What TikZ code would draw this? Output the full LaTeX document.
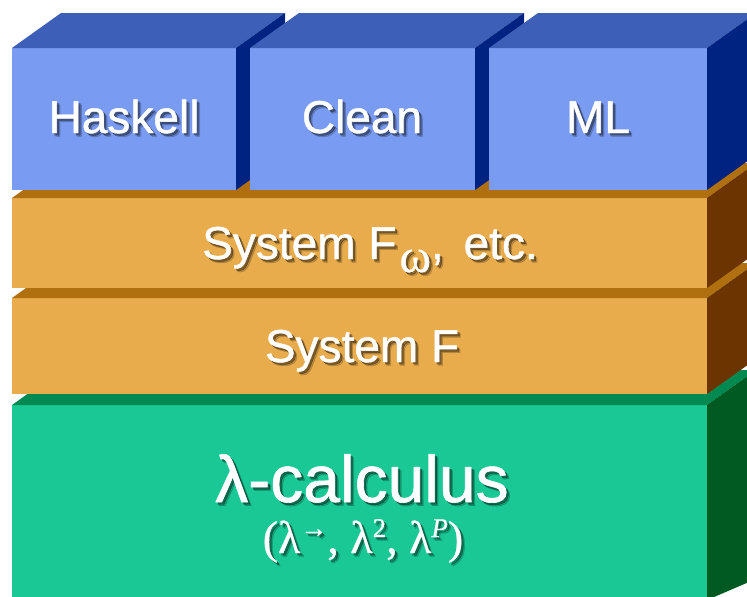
\documentclass[tikz,border=0pt]{standalone}
\usepackage{fontspec}
\setmainfont{Liberation Sans}
\newfontfamily\labelfont{Liberation Sans}[FakeBold=0.9]
\newfontfamily\serifgreek{Liberation Serif}[FakeBold=0.6]

% face colours of the three kinds of block
\definecolor{bluefront}{RGB}{122,155,242}
\definecolor{bluetop}{RGB}{62,95,184}
\definecolor{blueside}{RGB}{0,34,128}
\definecolor{orfront}{RGB}{232,172,76}
\definecolor{ortop}{RGB}{176,112,16}
\definecolor{orside}{RGB}{108,52,0}
\definecolor{grfront}{RGB}{26,200,150}
\definecolor{grtop}{RGB}{0,138,82}
\definecolor{grside}{RGB}{0,90,34}

% a block: front face (x0,y0)-(x1,y1), seen with depth (49,-35)
\newcommand\block[7]{%
  \fill[#5] (#1,#2) rectangle (#3,#4);
  \fill[#6] (#1,#2) -- (#1+49,#2-35) -- (#3+49,#2-35) -- (#3,#2) -- cycle;
  \fill[#7] (#3,#2) -- (#3+49,#2-35) -- (#3+49,#4-35) -- (#3,#4) -- cycle;
}

% white text with a soft dark drop shadow
\newcommand\shadowed[4]{%
  \node[#3, text=black, text opacity=0.18, xshift=3.5pt, yshift=-3.5pt] at (#2) {#4};
  \node[#3, text=black, text opacity=0.35, xshift=2.2pt, yshift=-2.2pt] at (#2) {#4};
  \node[#3, text=white] (#1) at (#2) {#4};
}

\tikzset{
  lbl/.style={anchor=base, inner sep=0pt, font=\labelfont\fontsize{46}{46}\selectfont},
  biglbl/.style={anchor=base, inner sep=0pt, font=\labelfont\fontsize{66}{66}\selectfont},
  subtext/.style={anchor=base, inner sep=0pt, font=\serifgreek\fontsize{46}{46}\selectfont},
}

\begin{document}
\begin{tikzpicture}[x=1pt,y=-1pt]
\useasboundingbox (0,0) rectangle (747,597);
\fill[white] (0,0) rectangle (747,597);
\clip (0,0) rectangle (747,597);

% lambda-calculus base
\fill[grfront] (12,405) rectangle (707,600);
\fill[grtop] (12,405) -- (61,370) -- (756,370) -- (707,405) -- cycle;
\fill[grside] (707,405) -- (756,370) -- (756,579) -- (707,600) -- cycle;

% System F layers
\block{12}{298}{707}{394}{orfront}{ortop}{orside}
\block{12}{198}{707}{288}{orfront}{ortop}{orside}

% the three languages on top
\block{12}{48}{236}{190}{bluefront}{bluetop}{blueside}
\block{250}{48}{475}{190}{bluefront}{bluetop}{blueside}
\block{489}{48}{707}{190}{bluefront}{bluetop}{blueside}

% labels
\shadowed{haskell}{124,133}{lbl}{Haskell}
\shadowed{clean}{362,133}{lbl}{Clean}
\shadowed{ml}{598,133}{lbl}{ML}
\shadowed{sysfw}{370,259}{lbl}{System F\kern3pt\raisebox{-13pt}{\serifgreek\fontsize{48}{48}\selectfont ω}, \kern7pt etc.}
\shadowed{sysf}{362,362}{lbl}{System F}
\shadowed{lambda}{362,502}{biglbl}{λ-calculus}
\shadowed{variants}{363,553}{subtext}{(λ\raisebox{16pt}{\fontsize{27}{27}\selectfont →}, λ\raisebox{16pt}{\fontsize{27}{27}\selectfont 2}, λ\raisebox{16pt}{\fontsize{27}{27}\selectfont\itshape P})}
\end{tikzpicture}
\end{document}
